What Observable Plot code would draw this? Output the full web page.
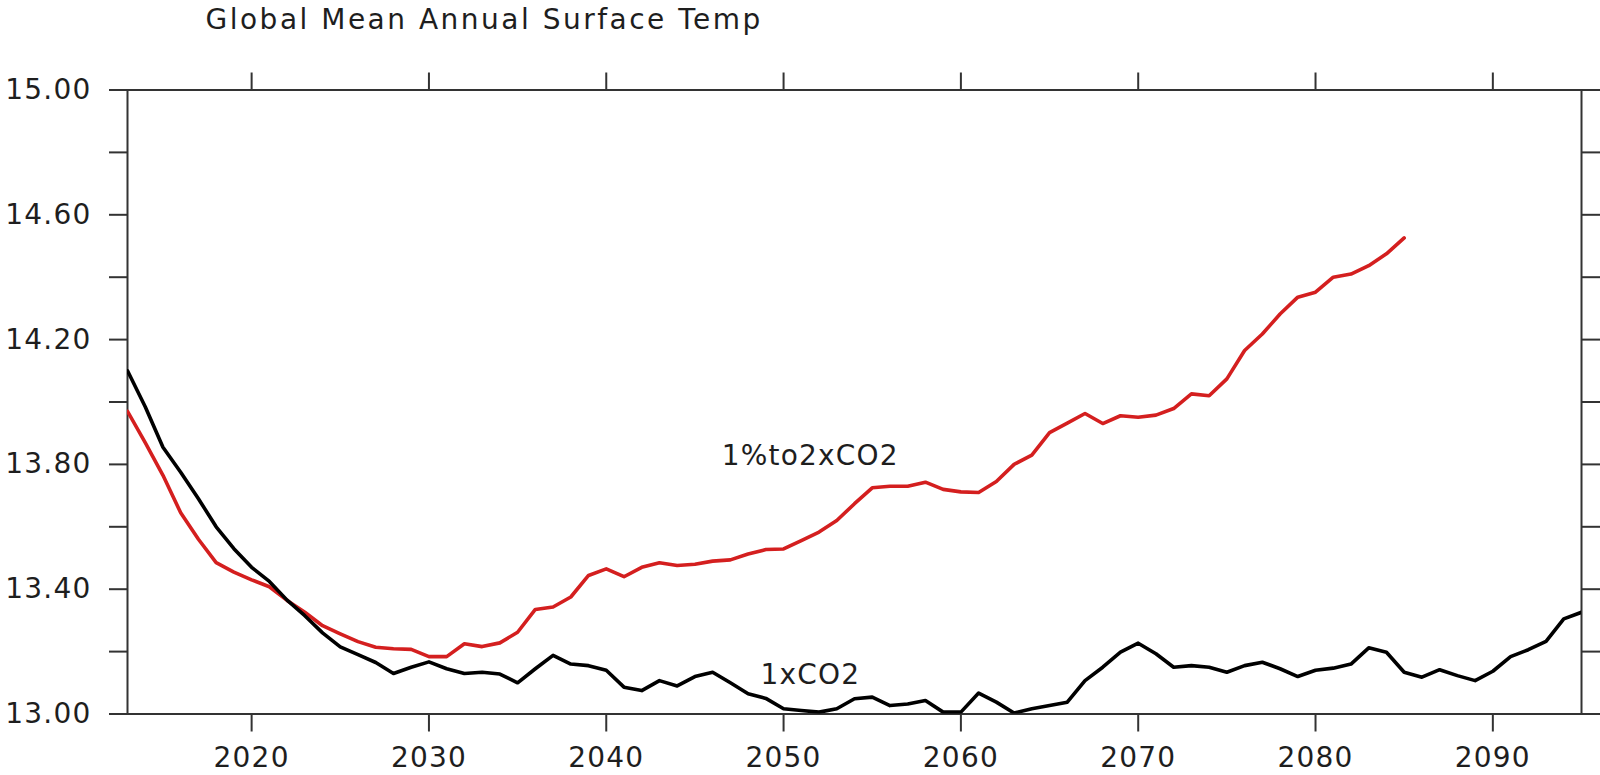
<!DOCTYPE html>
<html>
<head>
<meta charset="utf-8">
<script src="https://cdn.jsdelivr.net/npm/d3@7"></script>
<script src="https://cdn.jsdelivr.net/npm/@observablehq/plot@0.6"></script>
<style>
  html, body { margin: 0; padding: 0; background: #fff; }
  #chart svg text { letter-spacing: 1.2px; }
</style>
</head>
<body>
<div id="chart"></div>
<script>
// Global mean annual surface temperature (deg C), two model runs
const years = d3.range(2013, 2096);

// Control run, constant CO2 (2013–2095)
const control1xCO2 = [
  14.10, 13.985, 13.855, 13.775, 13.69, 13.60, 13.53, 13.47, 13.425, 13.365,
  13.315, 13.26, 13.215, 13.19, 13.165, 13.13, 13.15, 13.167, 13.145, 13.13,
  13.134, 13.128, 13.10, 13.145, 13.188, 13.16, 13.155, 13.14, 13.086, 13.075,
  13.107, 13.09, 13.12, 13.134, 13.10, 13.065, 13.05, 13.017, 13.011, 13.006,
  13.017, 13.049, 13.054, 13.027, 13.032, 13.043, 13.006, 13.006, 13.067, 13.038,
  13.003, 13.017, 13.027, 13.038, 13.107, 13.15, 13.198, 13.227, 13.193, 13.15,
  13.155, 13.15, 13.134, 13.155, 13.166, 13.145, 13.12, 13.14, 13.147, 13.16,
  13.212, 13.198, 13.134, 13.118, 13.142, 13.123, 13.107, 13.137, 13.184, 13.206,
  13.233, 13.305, 13.326
];

// CO2 rising 1% per year toward doubling (2013–2085)
const ramp1pctTo2xCO2 = [
  13.97, 13.87, 13.765, 13.645, 13.56, 13.485, 13.455, 13.43, 13.408, 13.364,
  13.326, 13.283, 13.257, 13.232, 13.214, 13.209, 13.207, 13.184, 13.184, 13.225,
  13.216, 13.228, 13.262, 13.335, 13.343, 13.375, 13.444, 13.465, 13.44, 13.47,
  13.485, 13.476, 13.48, 13.49, 13.494, 13.513, 13.527, 13.529, 13.556, 13.583,
  13.62, 13.674, 13.725, 13.73, 13.73, 13.743, 13.72, 13.712, 13.71, 13.745,
  13.80, 13.83, 13.902, 13.932, 13.963, 13.931, 13.956, 13.951, 13.958, 13.979,
  14.026, 14.02, 14.074, 14.165, 14.218, 14.282, 14.336, 14.352, 14.40, 14.41,
  14.437, 14.475, 14.526
];

const xTicks = [2020, 2030, 2040, 2050, 2060, 2070, 2080, 2090];
const yTicks = [13.0, 13.2, 13.4, 13.6, 13.8, 14.0, 14.2, 14.4, 14.6, 14.8, 15.0];
const yLabeled = [13.0, 13.4, 13.8, 14.2, 14.6, 15.0];

const titleText = "Global Mean Annual Surface Temp";
const seriesNames = ["1xCO2", "1%to2xCO2"];
const labelYear = 2051;

const control = control1xCO2.map((t, i) => ({year: years[i], temp: t}));
const ramp = ramp1pctTo2xCO2.map((t, i) => ({year: years[i], temp: t}));

const axisInk = "#333";
const textInk = "#1e1e1e";
const fmtY = d => yLabeled.some(v => Math.abs(v - d) < 1e-9) ? d.toFixed(2) : "";

const chart = Plot.plot({
  width: 1600,
  height: 775,
  marginLeft: 127,
  marginRight: 19,
  marginTop: 89.5,
  marginBottom: 61.5,
  style: {fontFamily: "DejaVu Sans", fontSize: "28px", color: textInk, background: "#fff"},
  x: {domain: [2013, 2095], label: null},
  y: {domain: [13, 15], label: null},
  marks: [
    Plot.axisX({anchor: "bottom", ticks: xTicks, tickSize: 18, tickPadding: 15,
      tickFormat: d => String(d), stroke: axisInk, strokeWidth: 2, label: null, fontSize: 28}),
    Plot.axisX({anchor: "top", ticks: xTicks, tickSize: 18,
      tickFormat: () => "", stroke: axisInk, strokeWidth: 2, label: null}),
    Plot.axisY({anchor: "left", ticks: yTicks, tickSize: 18, tickPadding: 18,
      tickFormat: fmtY, stroke: axisInk, strokeWidth: 2, label: null, fontSize: 28}),
    Plot.axisY({anchor: "right", ticks: yTicks, tickSize: 18,
      tickFormat: () => "", stroke: axisInk, strokeWidth: 2, label: null}),
    Plot.frame({stroke: axisInk, strokeWidth: 2}),
    Plot.line(ramp, {x: "year", y: "temp", stroke: "#d41f1f", strokeWidth: 3.6, clip: true}),
    Plot.line(control, {x: "year", y: "temp", stroke: "#000", strokeWidth: 3.6, clip: true}),
    Plot.text(ramp.filter(d => d.year === labelYear), {
      x: "year", y: "temp", text: () => seriesNames[1], dx: 9, dy: -84, fontSize: 28, fill: textInk
    }),
    Plot.text(control.filter(d => d.year === labelYear), {
      x: "year", y: "temp", text: () => seriesNames[0], dx: 9, dy: -36, fontSize: 28, fill: textInk
    }),
    Plot.text([titleText], {
      frameAnchor: "top-left", text: d => d, textAnchor: "start",
      dx: 78, dy: -81, fontSize: 28, fill: textInk
    })
  ]
});

// widen the heading's tracking
d3.select(chart).selectAll("text")
  .filter(function() { return this.textContent === titleText; })
  .style("letter-spacing", "2.5px");

document.getElementById("chart").appendChild(chart);
</script>
</body>
</html>
